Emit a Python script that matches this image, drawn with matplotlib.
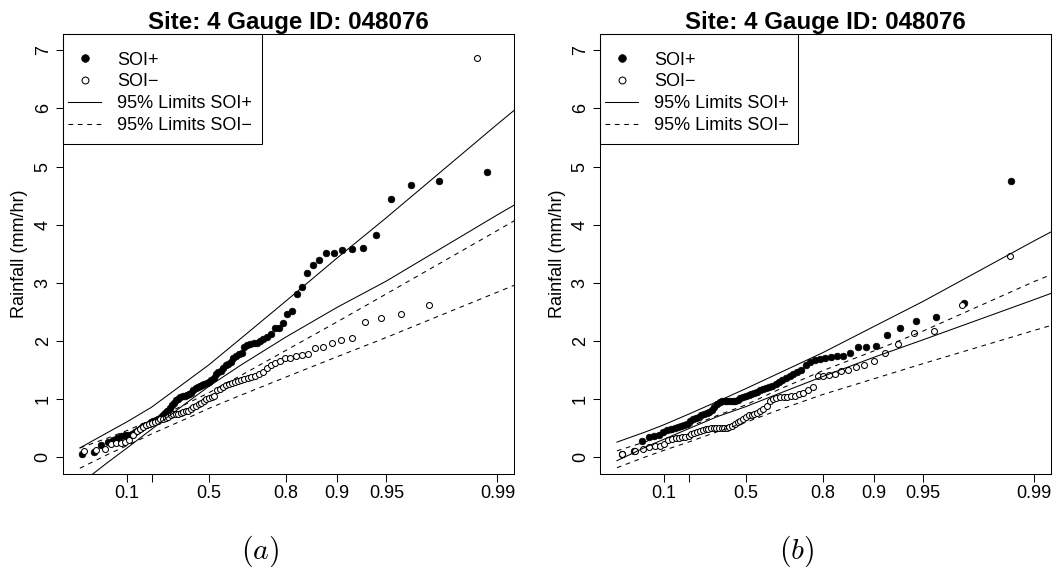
import numpy as np
import matplotlib
matplotlib.use("Agg")
import matplotlib.pyplot as plt
from matplotlib.patches import Rectangle
from matplotlib.ticker import NullLocator

plt.rcParams["font.family"] = ["Liberation Sans", "DejaVu Sans"]
plt.rcParams["mathtext.fontset"] = "cm"

# ---- data ----
title = "Site: 4 Gauge ID: 048076"
y_label = "Rainfall (mm/hr)"
tick_probs = [0.1, 0.2, 0.5, 0.8, 0.9, 0.95, 0.99]
tick_labels = ["0.1", "", "0.5", "0.8", "0.9", "0.95", "0.99"]
y_ticks = [0, 1, 2, 3, 4, 5, 6, 7]
legend_labels = ["SOI+", "SOI\u2212", "95% Limits SOI+", "95% Limits SOI\u2212"]

# sorted rainfall, panel (a)
soi_pos_a = [0.06, 0.09, 0.21, 0.26, 0.29, 0.33, 0.36, 0.38, 0.39, 0.40,
             0.43, 0.47, 0.50, 0.53, 0.55, 0.57, 0.60, 0.62, 0.64, 0.66,
             0.69, 0.72, 0.76, 0.80, 0.85, 0.90, 0.94, 0.98, 1.01, 1.03,
             1.05, 1.06, 1.07, 1.08, 1.10, 1.15, 1.19, 1.21, 1.22, 1.24,
             1.26, 1.28, 1.30, 1.32, 1.36, 1.44, 1.47, 1.49, 1.53, 1.58,
             1.61, 1.63, 1.70, 1.74, 1.77, 1.80, 1.90, 1.93, 1.95, 1.97,
             1.97, 2.00, 2.03, 2.06, 2.12, 2.22, 2.23, 2.31, 2.47, 2.52,
             2.80, 2.92, 3.17, 3.31, 3.39, 3.52, 3.52, 3.56, 3.58, 3.60,
             3.82, 4.44, 4.69, 4.76, 4.91]
soi_neg_a = [0.10, 0.12, 0.14, 0.22, 0.24, 0.25, 0.27, 0.30, 0.38, 0.45,
             0.49, 0.52, 0.55, 0.57, 0.59, 0.61, 0.63, 0.65, 0.66, 0.67,
             0.70, 0.73, 0.74, 0.74, 0.75, 0.76, 0.77, 0.79, 0.80, 0.83,
             0.86, 0.88, 0.91, 0.94, 0.97, 1.00, 1.02, 1.03, 1.05, 1.16,
             1.17, 1.20, 1.24, 1.26, 1.27, 1.29, 1.31, 1.33, 1.34, 1.36,
             1.38, 1.40, 1.44, 1.47, 1.53, 1.58, 1.62, 1.65, 1.70, 1.71,
             1.74, 1.76, 1.78, 1.88, 1.90, 1.97, 2.02, 2.05, 2.33, 2.39,
             2.47, 2.62, 6.87]

# sorted rainfall, panel (b)
soi_pos_b = [0.06, 0.10, 0.28, 0.35, 0.37, 0.38, 0.44, 0.46, 0.48, 0.50,
             0.52, 0.54, 0.56, 0.58, 0.62, 0.65, 0.68, 0.70, 0.72, 0.74,
             0.76, 0.78, 0.81, 0.86, 0.92, 0.95, 0.96, 0.96, 0.96, 0.96,
             0.96, 0.97, 0.99, 1.02, 1.04, 1.06, 1.07, 1.09, 1.11, 1.13,
             1.15, 1.17, 1.19, 1.21, 1.23, 1.26, 1.30, 1.33, 1.36, 1.39,
             1.43, 1.46, 1.50, 1.59, 1.64, 1.67, 1.69, 1.71, 1.73, 1.74,
             1.74, 1.80, 1.90, 1.90, 1.91, 2.11, 2.23, 2.34, 2.42, 2.65,
             4.76]
soi_neg_b = [0.06, 0.10, 0.15, 0.17, 0.19, 0.20, 0.23, 0.29, 0.32, 0.33,
             0.33, 0.34, 0.35, 0.37, 0.40, 0.42, 0.43, 0.45, 0.47, 0.48,
             0.49, 0.50, 0.50, 0.50, 0.50, 0.50, 0.50, 0.51, 0.52, 0.54,
             0.57, 0.60, 0.63, 0.66, 0.69, 0.72, 0.73, 0.74, 0.76, 0.79,
             0.83, 0.88, 0.96, 1.01, 1.02, 1.03, 1.03, 1.04, 1.05, 1.06,
             1.08, 1.11, 1.15, 1.21, 1.39, 1.40, 1.42, 1.44, 1.48, 1.50,
             1.56, 1.58, 1.66, 1.79, 1.94, 2.14, 2.17, 2.61, 3.46]

# 95% limit curves, read at these probabilities
limit_probs = [0.01, 0.05, 0.1, 0.2, 0.35, 0.5, 0.65, 0.8, 0.9, 0.95, 0.99, 0.995]
upper_pos_a = [0.16, 0.44, 0.61, 0.86, 1.23, 1.59, 2.05, 2.69, 3.43, 4.12, 5.73, 6.40]
lower_pos_a = [-0.46, -0.07, 0.16, 0.48, 0.86, 1.22, 1.59, 2.07, 2.58, 3.03, 4.17, 4.64]
upper_neg_a = [0.16, 0.34, 0.46, 0.64, 0.87, 1.11, 1.41, 1.84, 2.33, 2.81, 3.90, 4.37]
lower_neg_a = [-0.19, 0.06, 0.20, 0.40, 0.62, 0.84, 1.07, 1.38, 1.73, 2.06, 2.84, 3.17]

upper_pos_b = [0.26, 0.44, 0.56, 0.74, 0.96, 1.18, 1.44, 1.80, 2.25, 2.68, 3.72, 4.15]
lower_pos_b = [-0.06, 0.18, 0.31, 0.49, 0.70, 0.87, 1.09, 1.39, 1.72, 2.02, 2.71, 3.01]
upper_neg_b = [0.11, 0.27, 0.38, 0.52, 0.72, 0.90, 1.16, 1.49, 1.83, 2.17, 3.02, 3.35]
lower_neg_b = [-0.18, 0.01, 0.12, 0.26, 0.44, 0.60, 0.81, 1.08, 1.35, 1.61, 2.18, 2.42]


# Gumbel probability scale
def gumbel(p):
    p = np.clip(np.asarray(p, dtype=float), 1e-12, 1 - 1e-12)
    return -np.log(-np.log(p))


def gumbel_inv(y):
    return np.exp(-np.exp(-np.asarray(y, dtype=float)))


def plot_pos(values):
    n = len(values)
    return np.arange(1, n + 1) / (n + 1)


fig = plt.figure(figsize=(10.56, 5.67), dpi=100)
ax_a = fig.add_axes([63.2 / 1056, 1 - 473.5 / 567, 450.9 / 1056, 439.5 / 567])
ax_b = fig.add_axes([600.3 / 1056, 1 - 473.5 / 567, 450.3 / 1056, 439.5 / 567])

panels = [
    (ax_a, soi_pos_a, soi_neg_a, upper_pos_a, lower_pos_a, upper_neg_a, lower_neg_a),
    (ax_b, soi_pos_b, soi_neg_b, upper_pos_b, lower_pos_b, upper_neg_b, lower_neg_b),
]

for ax, pos, neg, up_p, lo_p, up_n, lo_n in panels:
    ax.set_xscale("function", functions=(gumbel, gumbel_inv))

    h1, = ax.plot(plot_pos(pos), pos, "o", color="black", ms=4.8, mew=0.5, ls="none")
    h2, = ax.plot(plot_pos(neg), neg, "o", mfc="white", mec="black", ms=4.3, mew=0.75, ls="none")
    h3, = ax.plot(limit_probs, up_p, "-", color="black", lw=0.75)
    ax.plot(limit_probs, lo_p, "-", color="black", lw=0.75)
    h4, = ax.plot(limit_probs, up_n, color="black", lw=0.75, ls=(0, (4.5, 4.5)))
    ax.plot(limit_probs, lo_n, color="black", lw=0.75, ls=(0, (4.5, 4.5)))

    ax.set_xlim(gumbel_inv(-1.772), gumbel_inv(4.845))
    ax.set_ylim(-0.28, 7.28)
    ax.set_xticks(tick_probs)
    ax.set_xticklabels(tick_labels)
    ax.xaxis.set_minor_locator(NullLocator())
    ax.set_yticks(y_ticks)
    ax.set_yticklabels([str(v) for v in y_ticks])
    for lbl in ax.get_yticklabels():
        lbl.set_rotation(90)
        lbl.set_va("center")
    ax.tick_params(direction="out", length=5.4, width=0.75, labelsize=13, pad=2.9)
    for s in ax.spines.values():
        s.set_linewidth(0.75)

    ax.set_title(title, fontsize=17.4, fontweight="bold", pad=3.8)
    ax.text(-0.096, 0.5, y_label, transform=ax.transAxes, rotation=90,
            ha="center", va="center", fontsize=13)

    leg = ax.legend([h1, h2, h3, h4], legend_labels, loc="upper left",
                    bbox_to_anchor=(0.0098, 0.960), frameon=False, fontsize=13,
                    borderpad=0, borderaxespad=0, handlelength=1.87,
                    handletextpad=0.88, labelspacing=0.27, markerscale=1.15)
    ax.add_patch(Rectangle((0, 0.750), 0.440, 0.250, transform=ax.transAxes,
                           fill=False, ec="black", lw=0.75, zorder=5, clip_on=False))

fig.text(260.3 / 1056, 1 - 551 / 567, r"$(a)$", fontsize=21.5, ha="center", va="center")
fig.text(796.7 / 1056, 1 - 551 / 567, r"$(b)$", fontsize=21.5, ha="center", va="center")

fig.savefig("out.png", dpi=100)
